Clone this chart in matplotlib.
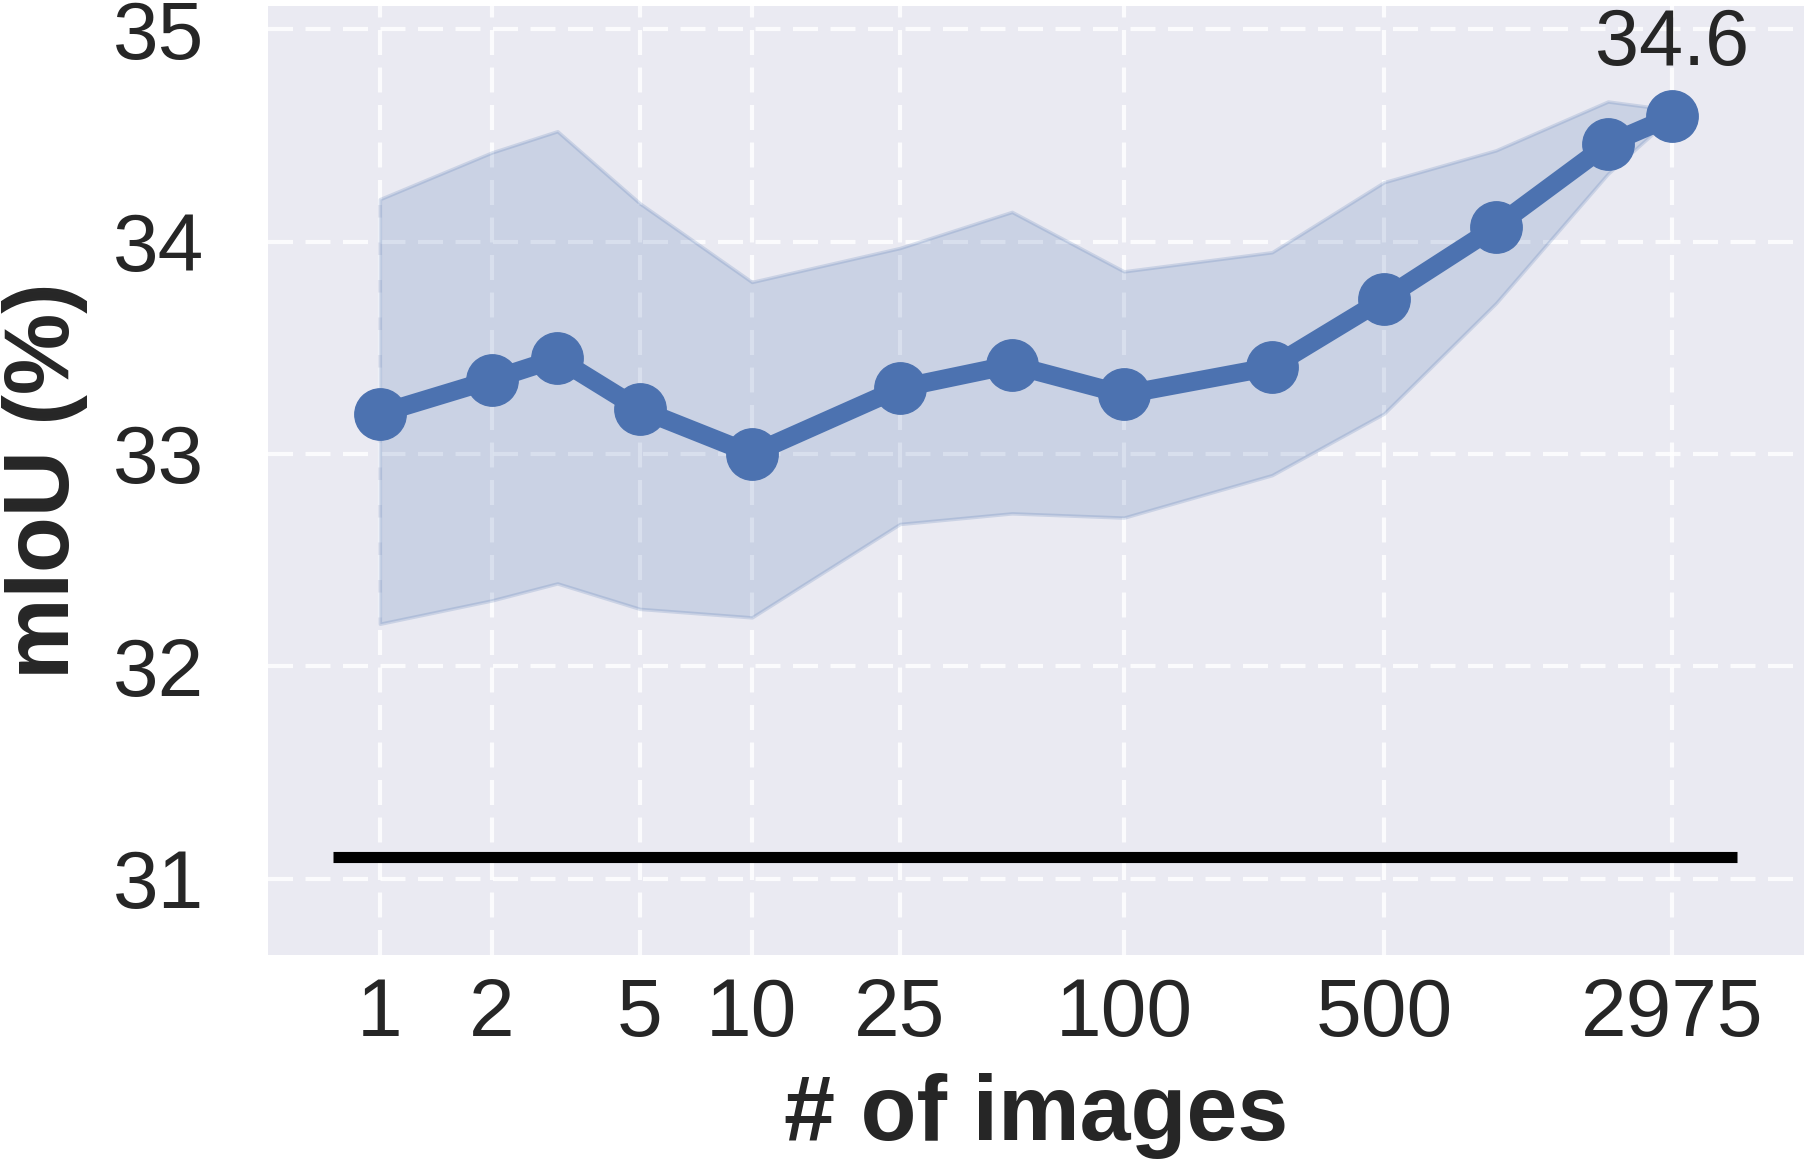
import matplotlib
matplotlib.use('Agg')
import matplotlib.pyplot as plt
from matplotlib.ticker import FixedLocator, FixedFormatter, NullLocator

# data
n_images = [1, 2, 3, 5, 10, 25, 50, 100, 250, 500, 1000, 2000, 2975]
miou_mean = [33.19, 33.35, 33.45, 33.21, 33.00, 33.31, 33.42, 33.28, 33.41, 33.73, 34.07, 34.46, 34.59]
miou_upper = [34.20, 34.42, 34.52, 34.18, 33.81, 33.97, 34.14, 33.86, 33.95, 34.28, 34.43, 34.66, 34.62]
miou_lower = [32.20, 32.31, 32.39, 32.27, 32.23, 32.67, 32.72, 32.70, 32.90, 33.19, 33.71, 34.32, 34.59]
baseline = 31.1
xticks = [1, 2, 5, 10, 25, 100, 500, 2975]
yticks = [31, 32, 33, 34, 35]

blue = '#4C72B0'
plt.rcParams['font.family'] = ['Liberation Sans', 'DejaVu Sans']

fig = plt.figure(figsize=(18.10, 11.67), dpi=100)
ax = fig.add_axes([0.148, 0.1817, 0.8487, 0.8132])
ax.set_facecolor('#EAEAF2')
for s in ax.spines.values():
    s.set_visible(False)

# shaded band between min and max
ax.fill_between(n_images, miou_lower, miou_upper, facecolor=blue, edgecolor=blue,
                alpha=0.2, linewidth=2.5, zorder=2)

# mean curve
ax.plot(n_images, miou_mean, color=blue, linewidth=13.5, marker='o', markersize=37,
        zorder=4)

# baseline
ax.hlines(baseline, 0.75, 4450, color='black', linewidth=8, zorder=3)

ax.annotate('%.1f' % miou_mean[-1], (n_images[-1], miou_mean[-1]), xytext=(0, 25),
            textcoords='offset points', ha='center', va='bottom', fontsize=57,
            color='#262626', zorder=5)

ax.set_xscale('log')
ax.set_xlim(0.5, 6730)
ax.set_ylim(30.64, 35.11)
ax.xaxis.set_major_locator(FixedLocator(xticks))
ax.xaxis.set_major_formatter(FixedFormatter([str(t) for t in xticks]))
ax.xaxis.set_minor_locator(NullLocator())
ax.set_yticks(yticks)
ax.set_yticklabels([str(t) for t in yticks])
ax.tick_params(axis='both', length=0, labelsize=59, colors='#262626')
ax.tick_params(axis='x', pad=16)
ax.tick_params(axis='y', pad=46)

ax.grid(True, color='white', linewidth=3, linestyle=(0, (6, 3)), alpha=0.85, zorder=1)
ax.set_axisbelow(True)

ax.set_xlabel('# of images', fontsize=66, fontweight='bold', color='#262626', labelpad=14)
ax.set_ylabel('mIoU (%)', fontsize=66, fontweight='bold', color='#262626', labelpad=18)

fig.savefig('out.png', dpi=100)
